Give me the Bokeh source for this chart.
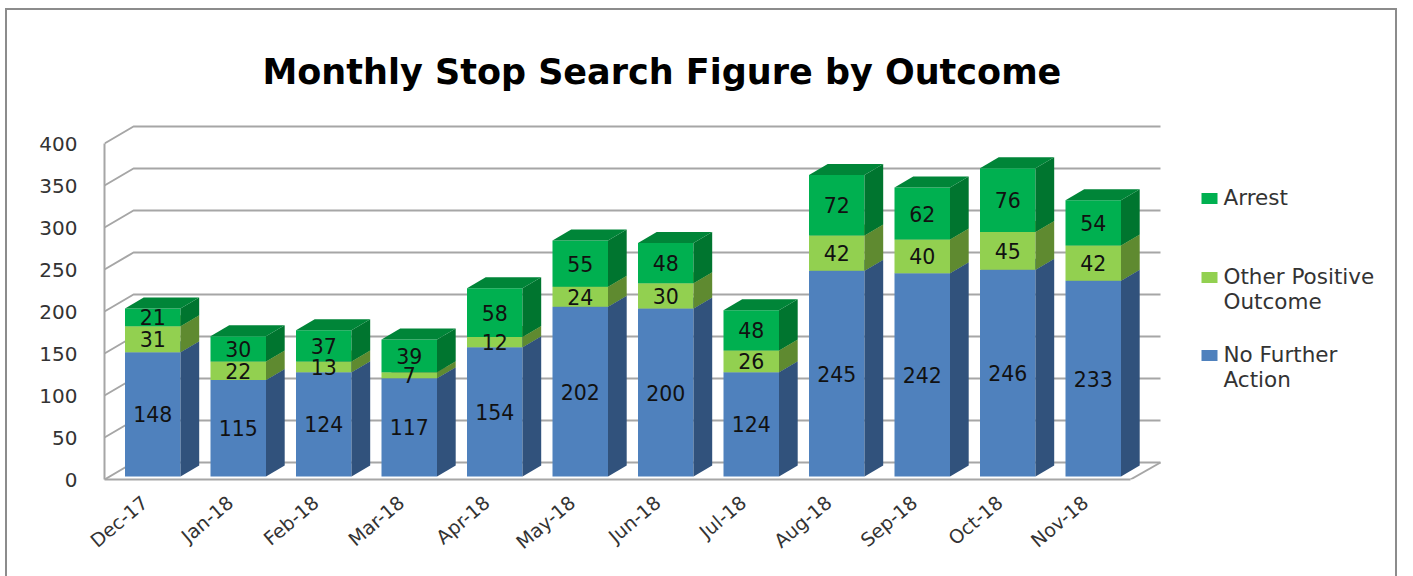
from bokeh.plotting import figure
from bokeh.models import Label, FixedTicker, Title
from bokeh.core.properties import value
from bokeh.embed import file_html
from bokeh.resources import INLINE

months = ["Dec-17","Jan-18","Feb-18","Mar-18","Apr-18","May-18","Jun-18","Jul-18","Aug-18","Sep-18","Oct-18","Nov-18"]
no_further = [148,115,124,117,154,202,200,124,245,242,246,233]
other_pos = [31,22,13,7,12,24,30,26,42,40,45,42]
arrest = [21,30,37,39,58,55,48,48,72,62,76,54]
y_ticks = [0,50,100,150,200,250,300,350,400]
title_text = "Monthly Stop Search Figure by Outcome"
legend_names = [["Arrest"], ["Other Positive","Outcome"], ["No Further","Action"]]
legend_colors = ["#00b050", "#92d050", "#4f81bd"]

FONT = "DejaVu Sans"
W, H = 1413, 576
FL, FR, FT, FB = 104, W, 120, 479       # plot frame in page px
WALL_R = 1160
STEP = 85.5; X0 = 152.25; YSCALE = 0.84
def xd(px): return (px - X0) / STEP
def yd(py): return (FB - py) / YSCALE

BORDER = "#8c8c8c"
p = figure(width=W, height=H, output_backend="svg", toolbar_location=None,
           x_range=(xd(FL), xd(FR)), y_range=(0, yd(FT)),
           min_border_left=FL, min_border_right=W-FR, min_border_top=FT, min_border_bottom=H-FB,
           outline_line_color=None, background_fill_color=None, border_fill_color=None)
p.styles = {"background":
    f"linear-gradient({BORDER},{BORDER}) 5px 8px/2px 568px no-repeat,"
    f"linear-gradient({BORDER},{BORDER}) 5px 8px/1392px 2px no-repeat,"
    f"linear-gradient({BORDER},{BORDER}) 1395px 8px/2px 568px no-repeat"}
p.grid.visible = False

t = Title(text=title_text, align="left", offset=158, standoff=57,
          text_font=FONT, text_font_size="35px", text_font_style="bold", text_color="black")
p.add_layout(t, "above")

GRID = "#a6a6a6"
wall_dx = xd(FL+29) - xd(FL)
wall_dy = yd(FB-17)
front_end = xd(1130)
back_l = xd(FL) + wall_dx
back_r = xd(WALL_R)
xs, ys = [], []
for v in y_ticks:
    xs.append([xd(FL), back_l, back_r]); ys.append([v, v+wall_dy, v+wall_dy])
xs.append([front_end, back_r]); ys.append([0, wall_dy])
p.multi_line(xs, ys, line_color=GRID, line_width=2)

bar_w = 55.5 / STEP
dep_x = 18.7 / STEP
dep_y = 11 / YSCALE
base = 3 / YSCALE

series = [
    (no_further, "#4f81bd", "#31527c", "#3f6797"),
    (other_pos,  "#92d050", "#5f8a30", "#75a640"),
    (arrest,     "#00b050", "#00752f", "#008538"),
]
bot = [base]*len(months)
label_x, label_y, label_t = [], [], []
for vals, col, side, top in series:
    tp = [b+v for b,v in zip(bot, vals)]
    l = [i-bar_w/2 for i in range(len(months))]
    r = [i+bar_w/2 for i in range(len(months))]
    p.quad(left=l, right=r, bottom=bot, top=tp, fill_color=col, line_color=None)
    p.patches([[a, a+dep_x, a+dep_x, a] for a in r],
              [[b, b+dep_y, t_+dep_y, t_] for b,t_ in zip(bot,tp)],
              fill_color=side, line_color=None)
    p.patches([[a, c, c+dep_x, a+dep_x] for a,c in zip(l,r)],
              [[t_, t_, t_+dep_y, t_+dep_y] for t_ in tp],
              fill_color=top, line_color=None)
    label_x += list(range(len(months)))
    label_y += [(b+t_)/2 for b,t_ in zip(bot,tp)]
    label_t += [str(v) for v in vals]
    bot = tp
p.text(x=label_x, y=label_y, text=label_t, text_align="center", text_baseline="middle",
       text_font=value(FONT), text_font_size="20.5px", text_color="#111111")

ya = p.yaxis[0]
ya.ticker = FixedTicker(ticks=y_ticks)
ya.bounds = (0, 400)
ya.axis_line_color = GRID; ya.axis_line_width = 2
ya.major_tick_line_color = None; ya.minor_tick_line_color = None
ya.major_label_text_font = FONT; ya.major_label_text_font_size = "20px"
ya.major_label_text_color = "#333333"; ya.major_label_standoff = 21

xa = p.xaxis[0]
shift = -8 / STEP
tick_pos = [i + shift for i in range(len(months))]
xa.ticker = FixedTicker(ticks=tick_pos)
xa.major_label_overrides = dict(zip(tick_pos, months))
xa.bounds = (xd(FL), front_end)
xa.axis_line_color = GRID; xa.axis_line_width = 2
xa.major_tick_line_color = None; xa.minor_tick_line_color = None
xa.major_label_orientation = 0.7
xa.major_label_text_font = FONT; xa.major_label_text_font_size = "19px"
xa.major_label_text_color = "#333333"; xa.major_label_standoff = 14

for col, cy, lines in zip(legend_colors, [198, 277, 355], legend_names):
    p.quad(left=[xd(1201)], right=[xd(1217)], top=[yd(cy-5.5)], bottom=[yd(cy+5.5)],
           fill_color=col, line_color=None)
    for k, s in enumerate(lines):
        p.add_layout(Label(x=xd(1223), y=yd(cy-1+25*k), text=s,
                           text_baseline="middle", text_font=FONT, text_font_size="21.5px", text_color="#333333"))

open("out.html", "w").write(file_html(p, INLINE))
